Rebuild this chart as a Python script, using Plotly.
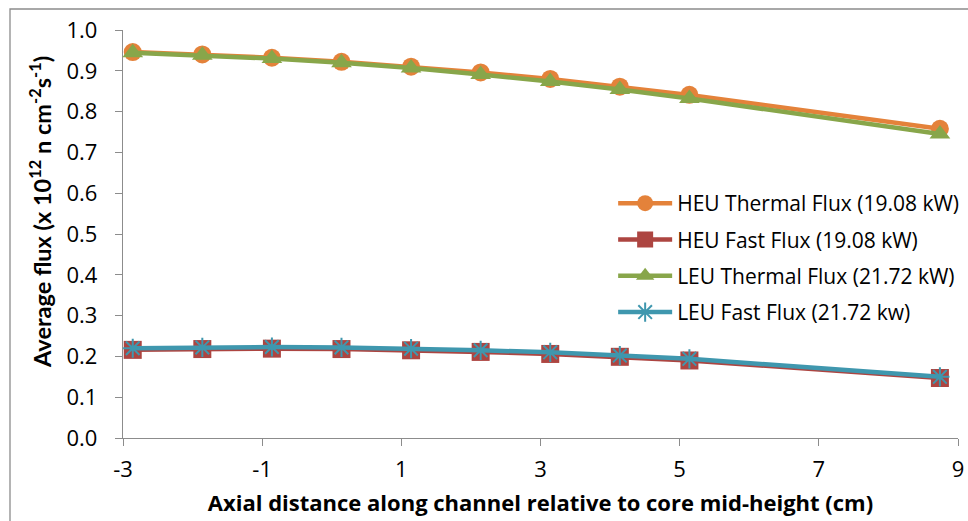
import plotly.graph_objects as go

# Axial positions of the flux tallies (cm from core mid-height)
axial_cm = [-2.86, -1.86, -0.86, 0.14, 1.14, 2.14, 3.14, 4.14, 5.14, 8.74]

# Average flux, units of 1e12 n cm^-2 s^-1
heu_thermal = [0.946, 0.940, 0.932, 0.922, 0.910, 0.896, 0.880, 0.861, 0.841, 0.758]
heu_fast = [0.216, 0.218, 0.219, 0.218, 0.215, 0.211, 0.206, 0.199, 0.190, 0.147]
leu_thermal = [0.944, 0.938, 0.930, 0.920, 0.907, 0.891, 0.874, 0.854, 0.832, 0.745]
leu_fast = [0.220, 0.222, 0.223, 0.222, 0.219, 0.215, 0.210, 0.202, 0.194, 0.150]

series_names = [
    "HEU Thermal Flux (19.08 kW)",
    "HEU Fast Flux (19.08 kW)",
    "LEU Thermal Flux (21.72 kW)",
    "LEU Fast Flux (21.72 kw)",
]

# Axis ticks (hyphen-minus labels)
x_tick_vals = [-3, -1, 1, 3, 5, 7, 9]
x_tick_text = ["-3", "-1", "1", "3", "5", "7", "9"]

Y_TITLE = "<b>Average flux (x 10<sup>12</sup> n cm<sup>-2</sup>s<sup>-1</sup>)</b>"
X_TITLE = "<b>Axial distance along channel relative to core mid-height (cm)</b>"

FONT = "'Open Sans', sans-serif"
FONT_V = "Lato, sans-serif"
AXIS_GREY = "#8c8c8c"

styles = [
    dict(color="#E4823A", symbol="circle", size=18),
    dict(color="#AD4541", symbol="square", size=18),
    dict(color="#88A64A", symbol="triangle-up", size=18),
    dict(color="#3F97AE", symbol="asterisk-open", size=16),
]

fig = go.Figure()
for i, (name, ys, st) in enumerate(
    zip(series_names, [heu_thermal, heu_fast, leu_thermal, leu_fast], styles)
):
    marker = dict(symbol=st["symbol"], size=st["size"], color=st["color"])
    if st["symbol"] == "asterisk-open":
        marker["line"] = dict(color=st["color"], width=2)
    fig.add_trace(
        go.Scatter(
            x=axial_cm,
            y=ys,
            name=name,
            mode="lines+markers",
            line=dict(color=st["color"], width=4.5),
            marker=marker,
            legendgroup=f"g{i}",
        )
    )

fig.update_layout(
    width=968,
    height=521,
    margin=dict(l=123, r=10, t=30, b=83, autoexpand=False),
    paper_bgcolor="white",
    plot_bgcolor="white",
    font=dict(family=FONT, size=21, color="#000000"),
    showlegend=True,
    legend=dict(
        x=0.587,
        y=0.625,
        xanchor="left",
        yanchor="top",
        bgcolor="rgba(0,0,0,0)",
        font=dict(family=FONT, size=21),
        itemwidth=54,
        tracegroupgap=6,
        traceorder="grouped",
    ),
    xaxis=dict(
        range=[-3, 9],
        tickvals=x_tick_vals,
        ticktext=x_tick_text,
        showgrid=False,
        zeroline=False,
        showline=True,
        linecolor=AXIS_GREY,
        linewidth=1.3,
        ticks="outside",
        ticklen=7,
        tickcolor=AXIS_GREY,
        tickfont=dict(family=FONT, size=22),
        ticklabelstandoff=4,
        title=dict(text=X_TITLE, font=dict(family=FONT, size=22), standoff=14),
    ),
    yaxis=dict(
        range=[0, 1.0],
        tick0=0,
        dtick=0.1,
        tickformat=".1f",
        showgrid=False,
        zeroline=False,
        showline=True,
        linecolor=AXIS_GREY,
        linewidth=1.3,
        ticks="outside",
        ticklen=7,
        tickcolor=AXIS_GREY,
        tickfont=dict(family=FONT, size=22),
        ticklabelstandoff=13,
    ),
    annotations=[
        # vertical axis title
        dict(
            text=Y_TITLE,
            textangle=-90,
            xref="paper",
            yref="paper",
            x=(41 - 123) / 835,
            y=0.554,
            xanchor="center",
            yanchor="middle",
            showarrow=False,
            font=dict(family=FONT_V, size=23.5, color="#000000"),
        )
    ],
    shapes=[
        # chart-area frame
        dict(
            type="rect",
            xref="paper",
            yref="paper",
            x0=(10 - 123) / 835,
            x1=1.2,
            y0=-0.4,
            y1=1 + (30 - 9) / 408,
            line=dict(color="#8c8c8c", width=1.3),
            fillcolor="rgba(0,0,0,0)",
            layer="below",
        )
    ],
)

fig.write_html("out.html")
